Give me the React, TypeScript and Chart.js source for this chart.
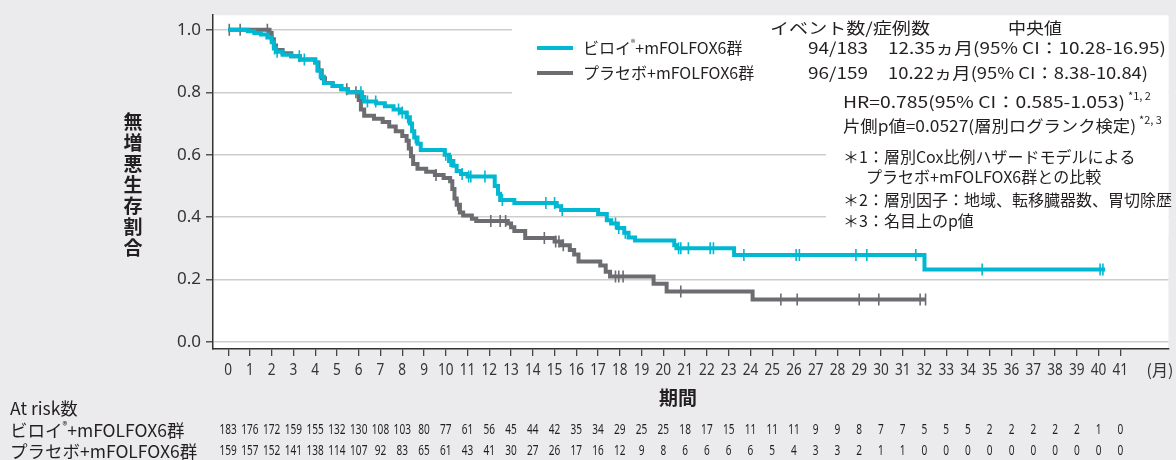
import React, { useEffect, useRef } from 'react';
import { Chart, registerables } from 'chart.js';

Chart.register(...registerables);

const monthTicks = [0,1,2,3,4,5,6,7,8,9,10,11,12,13,14,15,16,17,18,19,20,21,22,23,24,25,26,27,28,29,30,31,32,33,34,35,36,37,38,39,40,41];
const yTicks = [0, 0.2, 0.4, 0.6, 0.8, 1.0];

const viloiTime = [0, 0.9, 1.2, 1.5, 1.8, 2.0, 2.1, 2.2, 2.5, 2.9, 3.3, 4.0, 4.1, 4.25, 4.4, 4.8, 5.2, 5.5, 6.15, 6.25, 6.8, 7.2, 7.6, 7.9, 8.2, 8.35, 8.45, 8.55, 8.7, 8.85, 9.95, 10.15, 10.35, 10.5, 10.7, 11.0, 12.25, 12.4, 12.5, 13.15, 15.1, 15.3, 17.0, 17.4, 17.6, 17.9, 18.2, 18.4, 18.7, 20.5, 20.6, 23.25, 32.0, 40.3];
const viloiSurv = [1.0, 0.995, 0.99, 0.985, 0.975, 0.96, 0.94, 0.93, 0.92, 0.915, 0.905, 0.895, 0.87, 0.85, 0.83, 0.82, 0.81, 0.80, 0.785, 0.77, 0.765, 0.755, 0.745, 0.735, 0.72, 0.70, 0.675, 0.655, 0.635, 0.615, 0.60, 0.58, 0.565, 0.548, 0.538, 0.53, 0.50, 0.475, 0.455, 0.445, 0.435, 0.423, 0.41, 0.39, 0.38, 0.365, 0.35, 0.335, 0.325, 0.31, 0.30, 0.279, 0.232, 0.232];
const viloiCensor = [2.13, 2.25, 3.27, 3.5, 6.1, 6.4, 6.78, 7.83, 8.0, 8.25, 8.6, 10.0, 10.2, 10.25, 10.75, 11.05, 11.15, 11.8, 12.6, 14.6, 15.0, 15.35, 17.8, 17.95, 18.25, 20.7, 20.8, 21.15, 22.15, 22.3, 23.7, 26.1, 26.25, 28.85, 29.35, 31.6, 34.65, 40.07, 40.2];

const placeboTime = [0, 1.9, 2.0, 2.1, 2.2, 2.5, 2.9, 3.3, 4.0, 4.15, 4.3, 4.45, 4.8, 5.2, 5.5, 6.0, 6.1, 6.25, 6.7, 7.1, 7.4, 7.7, 8.0, 8.2, 8.3, 8.4, 8.5, 8.7, 9.1, 9.5, 9.9, 10.2, 10.3, 10.4, 10.5, 10.65, 10.8, 11.2, 11.4, 12.85, 13.0, 13.15, 13.65, 15.0, 15.3, 15.7, 15.9, 16.1, 17.1, 17.35, 17.55, 19.55, 20.15, 24.1, 32.05];
const placeboSurv = [1.0, 0.99, 0.97, 0.95, 0.935, 0.925, 0.915, 0.905, 0.895, 0.87, 0.845, 0.83, 0.82, 0.81, 0.80, 0.775, 0.745, 0.725, 0.715, 0.705, 0.69, 0.675, 0.66, 0.645, 0.62, 0.595, 0.57, 0.555, 0.545, 0.535, 0.525, 0.515, 0.49, 0.46, 0.44, 0.415, 0.405, 0.395, 0.388, 0.38, 0.368, 0.356, 0.333, 0.322, 0.31, 0.295, 0.28, 0.258, 0.245, 0.225, 0.21, 0.187, 0.162, 0.136, 0.136];
const placeboCensor = [0.05, 0.55, 1.8, 5.45, 5.87, 9.55, 10.55, 12.07, 12.5, 12.75, 14.53, 15.05, 15.2, 15.4, 17.8, 17.95, 18.15, 20.8, 25.4, 26.15, 29.0, 29.9, 31.8, 32.05];

const atRiskViloi = [183, 176, 172, 159, 155, 132, 130, 108, 103, 80, 77, 61, 56, 45, 44, 42, 35, 34, 29, 25, 25, 18, 17, 15, 11, 11, 11, 9, 9, 8, 7, 7, 5, 5, 5, 2, 2, 2, 2, 2, 1, 0];
const atRiskPlacebo = [159, 157, 152, 141, 138, 114, 107, 92, 83, 65, 61, 43, 41, 30, 27, 26, 17, 16, 12, 9, 8, 6, 6, 6, 6, 5, 4, 3, 3, 2, 1, 1, 0, 0, 0, 0, 0, 0, 0, 0, 0, 0];

const CYAN = '#00b8d2';
const GRAY = '#6c6d71';
const BG = '#ebebed';
const TXT = '#231f20';
const JP = '"Noto Sans CJK JP", "Noto Sans", sans-serif';
const LAT = '"Noto Sans", "Noto Sans CJK JP", sans-serif';

function survAt(times: number[], surv: number[], t: number) {
  let s = surv[0];
  for (let i = 0; i < times.length; i++) if (times[i] <= t) s = surv[i];
  return s;
}

type Run = { t: string; font: string; dy?: number };
function drawRuns(ctx: CanvasRenderingContext2D, runs: Run[], x: number, y: number) {
  let cx = x;
  for (const r of runs) {
    ctx.font = r.font;
    ctx.fillText(r.t, cx, y + (r.dy || 0));
    cx += ctx.measureText(r.t).width;
  }
  return cx;
}

// draw left-aligned text stretched horizontally to span a given width; returns end x
function drawFit(ctx: CanvasRenderingContext2D, s: string, x: number, y: number, w: number, font: string) {
  ctx.save();
  ctx.font = font;
  const m = ctx.measureText(s).width;
  ctx.translate(x, y);
  ctx.scale(w / m, 1);
  ctx.textAlign = 'left';
  ctx.fillText(s, 0, 0);
  ctx.restore();
  return x + w;
}

function condensed(ctx: CanvasRenderingContext2D, s: string, cx: number, cy: number, font: string, sx: number) {
  ctx.save();
  ctx.translate(cx, cy);
  ctx.scale(sx, 1);
  ctx.font = font;
  ctx.textAlign = 'center';
  ctx.textBaseline = 'middle';
  ctx.fillText(s, 0, 0);
  ctx.restore();
}

const decor = {
  id: 'decor',
  beforeDraw(chart: any) {
    const { ctx, chartArea: a } = chart;
    ctx.save();
    ctx.fillStyle = BG;
    ctx.fillRect(0, 0, chart.width, chart.height);
    ctx.fillStyle = '#ffffff';
    ctx.fillRect(a.left, a.top, a.right - a.left, a.bottom - a.top);
    ctx.restore();
  },
  beforeDatasetsDraw(chart: any) {
    const { ctx, chartArea: a } = chart;
    ctx.save();
    ctx.fillStyle = '#ffffff';
    ctx.fillRect(512, a.top + 1, a.right - 512, 100 - a.top);
    ctx.fillRect(826, 100, a.right - 826, 136);
    ctx.restore();
  },
  afterDraw(chart: any) {
    const { ctx } = chart;
    const xs = chart.scales.x;
    ctx.save();
    ctx.fillStyle = TXT;
    ctx.textBaseline = 'middle';
    ctx.textAlign = 'left';

    // y-axis title, vertical stacked
    const yTitle = '無増悪生存割合';
    ctx.font = `bold 19px ${JP}`;
    ctx.textAlign = 'center';
    for (let i = 0; i < yTitle.length; i++) ctx.fillText(yTitle[i], 133, 122 + i * 21);

    // x tick labels
    ctx.fillStyle = '#333';
    for (const v of monthTicks) condensed(ctx, String(v), xs.getPixelForValue(v), 370, `17px ${LAT}`, 0.8);
    ctx.font = `16px ${JP}`;
    ctx.textAlign = 'center';
    ctx.fillText('(月)', 1160, 370);

    ctx.fillStyle = TXT;
    ctx.font = `bold 19px ${JP}`;
    ctx.fillText('期間', 678, 398);

    // legend
    ctx.textAlign = 'left';
    const F = `16px ${JP}`;
    const SUP = `11px ${JP}`;
    drawFit(ctx, 'イベント数/症例数', 770, 28, 160, F);
    drawFit(ctx, '中央値', 1008, 28, 54, F);

    ctx.lineWidth = 4;
    ctx.strokeStyle = CYAN;
    ctx.beginPath(); ctx.moveTo(537, 48); ctx.lineTo(573, 48); ctx.stroke();
    ctx.strokeStyle = GRAY;
    ctx.beginPath(); ctx.moveTo(537, 73); ctx.lineTo(573, 73); ctx.stroke();

    drawRuns(ctx, [{ t: 'ビロイ', font: F }, { t: '®', font: `9px ${JP}`, dy: -5 }, { t: '+mFOLFOX6群', font: F }], 583, 48);
    drawRuns(ctx, [{ t: 'プラセボ+mFOLFOX6群', font: F }], 583, 73);
    drawFit(ctx, '94/183', 808, 48, 60, F);
    drawFit(ctx, '96/159', 808, 73, 60, F);
    drawFit(ctx, '12.35ヵ月(95% CI：10.28-16.95)', 888, 48, 278, F);
    drawFit(ctx, '10.22ヵ月(95% CI：8.38-10.84)', 888, 73, 260, F);

    let e = drawFit(ctx, 'HR=0.785(95% CI：0.585-1.053)', 843, 102, 282, F);
    drawRuns(ctx, [{ t: '*1, 2', font: SUP, dy: -6 }], e + 3, 102);
    e = drawFit(ctx, '片側p値=0.0527(層別ログランク検定)', 843, 126, 293, F);
    drawRuns(ctx, [{ t: '*2, 3', font: SUP, dy: -6 }], e + 3, 126);

    ctx.font = F;
    ctx.fillText('＊1：層別Cox比例ハザードモデルによる', 843, 157);
    ctx.fillText('プラセボ+mFOLFOX6群との比較', 866, 177);
    ctx.fillText('＊2：層別因子：地域、転移臓器数、胃切除歴', 843, 200);
    ctx.fillText('＊3：名目上のp値', 843, 221);

    // at risk table
    const FR = `17.5px ${JP}`;
    ctx.font = FR;
    ctx.fillText('At risk数', 10, 408);
    drawRuns(ctx, [{ t: 'ビロイ', font: FR }, { t: '®', font: `10px ${JP}`, dy: -5 }, { t: '+mFOLFOX6群', font: FR }], 10, 430);
    drawRuns(ctx, [{ t: 'プラセボ+mFOLFOX6群', font: FR }], 10, 451);
    for (let i = 0; i < monthTicks.length; i++) {
      const px = xs.getPixelForValue(monthTicks[i]);
      condensed(ctx, String(atRiskViloi[i]), px, 430, `14px ${LAT}`, 0.72);
      condensed(ctx, String(atRiskPlacebo[i]), px, 451, `14px ${LAT}`, 0.72);
    }
    ctx.restore();
  },
};

export default function App() {
  const ref = useRef<HTMLCanvasElement | null>(null);
  useEffect(() => {
    document.body.style.margin = '0';
    const canvas = ref.current;
    if (!canvas) return;
    const viloiPts = viloiTime.map((t, i) => ({ x: t, y: viloiSurv[i] }));
    const placeboPts = placeboTime.map((t, i) => ({ x: t, y: placeboSurv[i] }));
    const viloiC = viloiCensor.map((t) => ({ x: t, y: survAt(viloiTime, viloiSurv, t) }));
    const placeboC = placeboCensor.map((t) => ({ x: t, y: survAt(placeboTime, placeboSurv, t) }));
    const chart = new Chart(canvas, {
      type: 'scatter',
      data: {
        datasets: [
          { label: 'ビロイ+mFOLFOX6群', data: viloiPts, showLine: true, stepped: true, borderColor: CYAN, borderWidth: 4, pointRadius: 0, order: 1 } as any,
          { label: 'ビロイ censor', data: viloiC, showLine: false, pointStyle: 'line', rotation: 90, pointRadius: 6, pointBorderWidth: 1.6, borderColor: CYAN, backgroundColor: CYAN, order: 0 } as any,
          { label: 'プラセボ+mFOLFOX6群', data: placeboPts, showLine: true, stepped: true, borderColor: GRAY, borderWidth: 4, pointRadius: 0, order: 3 } as any,
          { label: 'プラセボ censor', data: placeboC, showLine: false, pointStyle: 'line', rotation: 90, pointRadius: 6, pointBorderWidth: 1.6, borderColor: GRAY, backgroundColor: GRAY, order: 2 } as any,
        ],
      },
      options: {
        animation: false,
        responsive: false,
        events: [],
        layout: { padding: { top: 13, left: 0, right: 0, bottom: 0 } },
        plugins: { legend: { display: false }, tooltip: { enabled: false } },
        scales: {
          x: {
            type: 'linear',
            min: -0.698,
            max: 43.21,
            afterBuildTicks: (s: any) => { s.ticks = monthTicks.map((v) => ({ value: v })); },
            afterFit: (s: any) => { s.height = 111; },
            ticks: { color: 'rgba(0,0,0,0)', autoSkip: false, maxRotation: 0, minRotation: 0, font: { size: 8 } },
            grid: { drawOnChartArea: false, drawTicks: true, tickLength: 7, tickColor: '#444', lineWidth: 1.3 },
            border: { display: true, color: '#333', width: 1.5 },
          },
          y: {
            type: 'linear',
            min: -0.0223,
            max: 1.0468,
            afterBuildTicks: (s: any) => { s.ticks = yTicks.map((v) => ({ value: v })); },
            afterFit: (s: any) => { s.width = 213; },
            ticks: { callback: (v: any) => Number(v).toFixed(1), color: '#333', font: { size: 17, family: '"Noto Sans", sans-serif' }, padding: 5 },
            grid: { color: '#cdcdcd', lineWidth: 1.5, tickColor: '#555', tickLength: 7 },
            border: { display: true, color: '#333', width: 1.5 },
          },
        },
      },
      plugins: [decor],
    } as any);
    return () => chart.destroy();
  }, []);
  return (
    <div style={{ width: 1176, height: 460 }}>
      <canvas ref={ref} width={1176} height={460} style={{ display: 'block' }} />
    </div>
  );
}
